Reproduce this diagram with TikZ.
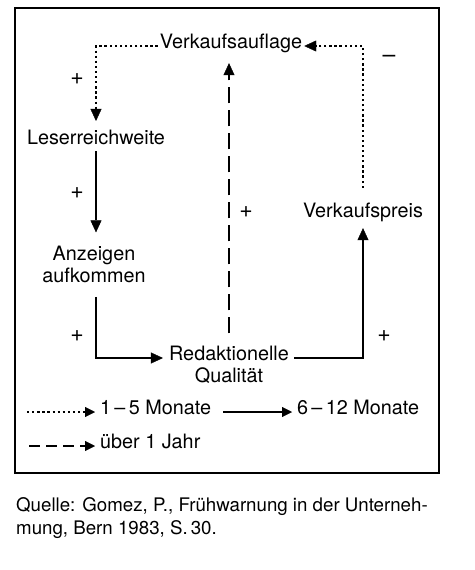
\documentclass[tikz,border=0pt]{standalone}
\usepackage{fontspec}
\setmainfont{TeX Gyre Heros}
\usetikzlibrary{arrows.meta}
\begin{document}
\begin{tikzpicture}[x=1pt, y=-1pt, every node/.style={inner sep=2pt, font=\fontsize{19.8}{21.5}\selectfont},
	spitze/.style={-{Triangle[length=12pt, width=11pt, line width=0.4pt]}},
	kurz/.style={spitze, line width=2.5pt, dash pattern=on 2.3pt off 2.8pt},
	mittel/.style={spitze, line width=1.2pt},
	lang/.style={spitze, line width=1.2pt, dash pattern=on 16pt off 7pt},
	zeichen/.style={font=\fontsize{23}{23}\selectfont}]
				\useasboundingbox (0,0) rectangle (474,570);
				\draw[line width=1.3pt] (15,8) rectangle (439,473);
				\node[anchor=mid] (auflage) at (231,46) [] {Verkaufsauflage};
				\node[anchor=mid] (leser) at (96,142) [] {Leserreichweite};
				\node[anchor=mid] (anzeigen) at (94,258) [] {\begin{tabular}[t]{@{}c@{}}Anzeigen\\aufkommen\end{tabular}};
				\node[anchor=mid] (redakt) at (229,358) [] {\begin{tabular}[t]{@{}c@{}}Redaktionelle\\Qualität\end{tabular}};
				\node[anchor=mid] (preis) at (363,215) [] {Verkaufspreis};
				\node[zeichen] (p1) at (77,79) [] {+};
				\node[zeichen] (p2) at (77,193) [] {+};
				\node[zeichen] (p3) at (77,336) [] {+};
				\node[zeichen] (p4) at (246,212) [] {+};
				\node[zeichen] (p5) at (384,336) [] {+};
				\node[zeichen] (m1) at (389,59) [] {–};
				\draw[kurz, shorten >=7pt] (auflage.mid west) -| (leser.north);
				\draw[mittel, shorten <=4pt, shorten >=11pt] (leser.south) -- (leser.south |- anzeigen.north);
				\draw[mittel, shorten <=6pt, shorten >=4pt] (anzeigen.south -| leser.south) |- (redakt.mid west);
				\draw[mittel, shorten <=3pt, shorten >=4pt] (redakt.mid east) -| (preis.south);
				\draw[kurz, shorten <=13pt] (preis.north) |- (auflage.mid east);
				\draw[lang, shorten <=10pt, shorten >=8pt] (redakt.north) -- (redakt.north |- auflage.south);
				\node[anchor=mid west] (l1) at (98,412) [] {1\,–\,5 Monate};
				\node[anchor=mid west] (l2) at (295,412) [] {6\,–\,12 Monate};
				\node[anchor=mid west] (l3) at (98,446) [] {über 1 Jahr};
				\coordinate (k1) at (27,412);
				\coordinate (k2) at (223,412);
				\coordinate (k3) at (29,446);
				\draw[kurz, shorten >=3pt, -{Triangle[length=10pt, width=10pt, line width=0.4pt]}] (k1) -- (l1.mid west);
				\draw[mittel, shorten >=3pt, -{Triangle[length=10pt, width=10pt, line width=0.4pt]}] (k2) -- (l2.mid west);
				\draw[lang, dash pattern=on 11pt off 6pt, shorten >=3pt, -{Triangle[length=10pt, width=10pt, line width=0.4pt]}] (k3) -- (l3.mid west);
				\node[anchor=base west, align=left, inner sep=0pt, font=\fontsize{18.7}{22.5}\selectfont] (quelle) at (16,534) [] {Quelle: Gomez, P., Frühwarnung in der Unterneh-\\mung, Bern 1983, S.\,30.};
			\end{tikzpicture}
\end{document}
